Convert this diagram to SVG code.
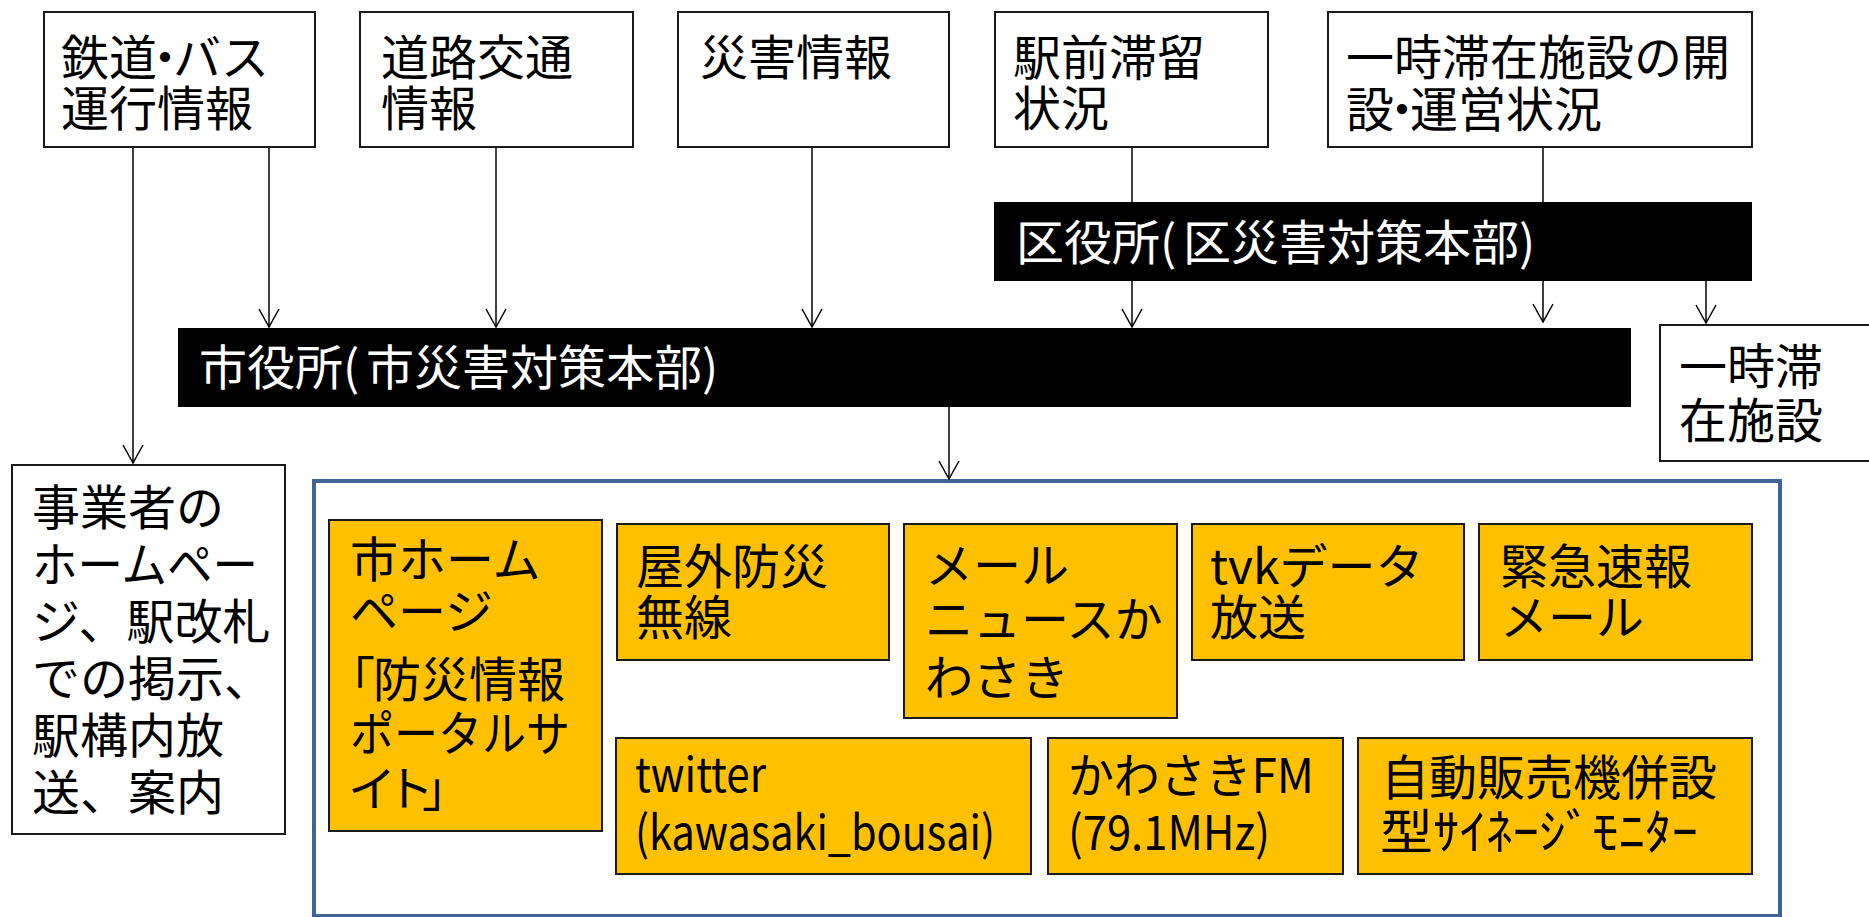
<svg xmlns="http://www.w3.org/2000/svg" width="1869" height="917" viewBox="0 0 1869 917">
<style>
.box{fill:#fff;stroke:#1a1a1a;stroke-width:2}
.org{fill:#FFC000;stroke:#1a1a1a;stroke-width:2}
.bar{fill:#000}
.t{font-family:"Noto Sans CJK JP","Noto Sans",sans-serif;font-size:48px;fill:#000}
.w{fill:#fff}
.conn{stroke:#000;stroke-width:1.5;fill:none}
.frame{fill:none;stroke:#3F6496;stroke-width:4}
</style>
<defs>
<marker id="arr" markerUnits="userSpaceOnUse" markerWidth="24" markerHeight="24" viewBox="-22 -12 24 24" refX="0" refY="0" orient="auto">
<path d="M-18,-10 L0,0 L-18,10" fill="none" stroke="#000" stroke-width="1.5"/>
</marker>
</defs>
<rect width="1869" height="917" fill="#fff"/>

<g id="channels-frame">
<rect class="frame" x="314" y="481" width="1466" height="435"/>
</g>

<g id="connectors">
<path class="conn" d="M133,147 V463" marker-end="url(#arr)"/>
<path class="conn" d="M269,147 V327" marker-end="url(#arr)"/>
<path class="conn" d="M496,147 V327" marker-end="url(#arr)"/>
<path class="conn" d="M812,147 V327" marker-end="url(#arr)"/>
<path class="conn" d="M1132,147 V202"/>
<path class="conn" d="M1132,281 V327" marker-end="url(#arr)"/>
<path class="conn" d="M1543,147 V202"/>
<path class="conn" d="M1543,281 V322" marker-end="url(#arr)"/>
<path class="conn" d="M1706,281 V323" marker-end="url(#arr)"/>
<path class="conn" d="M949,407 V479" marker-end="url(#arr)"/>
</g>

<g id="railbus">
<rect class="box" x="44" y="12" width="271" height="135"/>
<text class="t" x="61 109 141 173 221" y="75">鉄道・バス</text>
<text class="t" x="61" y="126">運行情報</text>
</g>
<g id="road">
<rect class="box" x="360" y="12" width="273" height="135"/>
<text class="t" x="381" y="75">道路交通</text>
<text class="t" x="381" y="126">情報</text>
</g>
<g id="disaster">
<rect class="box" x="678" y="12" width="271" height="135"/>
<text class="t" x="700" y="75">災害情報</text>
</g>
<g id="station">
<rect class="box" x="995" y="12" width="273" height="135"/>
<text class="t" x="1013" y="75">駅前滞留</text>
<text class="t" x="1013" y="126">状況</text>
</g>
<g id="shelter-status">
<rect class="box" x="1328" y="12" width="424" height="135"/>
<text class="t" x="1346" y="75">一時滞在施設の開</text>
<text class="t" x="1346 1378 1410 1458 1506 1554" y="127">設・運営状況</text>
</g>

<g id="ward-office">
<rect class="bar" x="994" y="202" width="758" height="79"/>
<text class="t w" x="1016 1064 1112 1160 1183 1231 1279 1327 1375 1423 1471 1519" y="260">区役所(区災害対策本部)</text>
</g>
<g id="city-office">
<rect class="bar" x="178" y="328" width="1453" height="79"/>
<text class="t w" x="199 247 295 343 366 414 462 510 558 606 654 702" y="385">市役所(市災害対策本部)</text>
</g>
<g id="shelter">
<rect class="box" x="1660" y="325" width="215" height="136"/>
<text class="t" x="1679" y="384">一時滞</text>
<text class="t" x="1679" y="438">在施設</text>
</g>

<g id="operators">
<rect class="box" x="12" y="465" width="273" height="369"/>
<text class="t" x="32" y="525">事業者の</text>
<text class="t" x="32" y="582" textLength="226" lengthAdjust="spacingAndGlyphs">ホームペー</text>
<text class="t" x="32" y="639">ジ、駅改札</text>
<text class="t" x="32" y="696">での掲示、</text>
<text class="t" x="32" y="753">駅構内放</text>
<text class="t" x="32" y="810">送、案内</text>
</g>

<g id="city-homepage">
<rect class="org" x="329" y="520" width="273" height="311"/>
<text class="t" x="350" y="577">市ホーム</text>
<text class="t" x="350" y="629">ページ</text>
<text class="t" x="327 373 421 469 517" y="697">「防災情報</text>
<text class="t" x="350" y="751" textLength="220" lengthAdjust="spacingAndGlyphs">ポータルサ</text>
<text class="t" x="348 386 422" y="806">イト」</text>
</g>
<g id="outdoor-radio">
<rect class="org" x="617" y="524" width="272" height="136"/>
<text class="t" x="636" y="584">屋外防災</text>
<text class="t" x="636" y="635">無線</text>
</g>
<g id="mail-news">
<rect class="org" x="904" y="524" width="273" height="194"/>
<text class="t" x="925" y="583">メール</text>
<text class="t" x="925" y="637">ニュースか</text>
<text class="t" x="925" y="695">わさき</text>
</g>
<g id="tvk">
<rect class="org" x="1192" y="524" width="272" height="136"/>
<text class="t" x="1210" y="584">tvkデータ</text>
<text class="t" x="1210" y="635">放送</text>
</g>
<g id="emergency-mail">
<rect class="org" x="1479" y="524" width="273" height="136"/>
<text class="t" x="1500" y="584">緊急速報</text>
<text class="t" x="1500" y="635">メール</text>
</g>
<g id="twitter">
<rect class="org" x="616" y="738" width="415" height="136"/>
<text class="t" x="635" y="792" textLength="131" lengthAdjust="spacingAndGlyphs">twitter</text>
<text class="t" x="635" y="850" textLength="360" lengthAdjust="spacingAndGlyphs">(kawasaki_bousai)</text>
</g>
<g id="fm">
<rect class="org" x="1048" y="738" width="295" height="136"/>
<text class="t" x="1068" y="793" textLength="246" lengthAdjust="spacingAndGlyphs">かわさきFM</text>
<text class="t" x="1068" y="850" textLength="202" lengthAdjust="spacingAndGlyphs">(79.1MHz)</text>
</g>
<g id="signage">
<rect class="org" x="1358" y="738" width="394" height="136"/>
<text class="t" x="1381" y="795">自動販売機併設</text>
<text class="t" x="1380" y="849" textLength="318" lengthAdjust="spacingAndGlyphs">型ｻｲﾈｰｼﾞﾓﾆﾀｰ</text>
</g>
</svg>
